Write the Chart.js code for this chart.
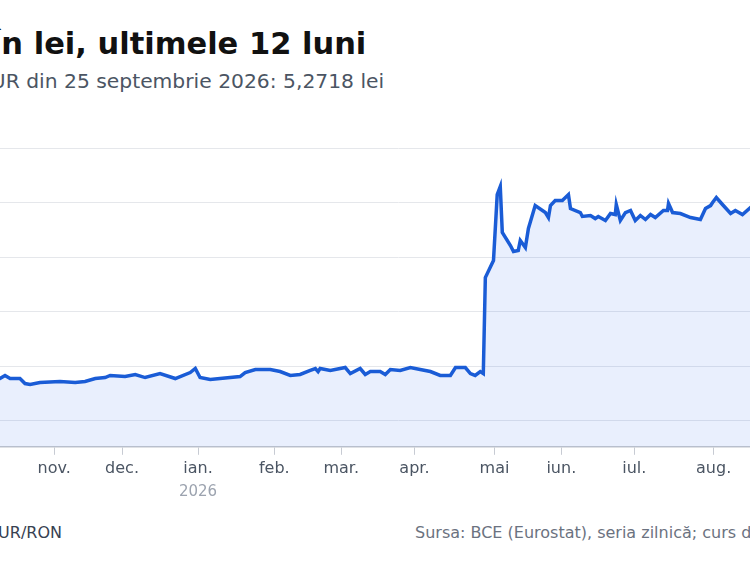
<!DOCTYPE html>
<html><head><meta charset="utf-8">
<script src="https://cdn.jsdelivr.net/npm/chart.js@4"></script>
<style>
body{margin:0;width:750px;height:575px;overflow:hidden;background:#fff;font-family:"DejaVu Sans",sans-serif;position:relative}
.t{position:absolute;white-space:nowrap}
#wrap{position:absolute;left:-34px;top:146px;width:900px;height:370px}
</style></head><body>
<div class="t" style="left:-10px;top:26px;font-size:30.5px;font-weight:bold;color:#111">În lei, ultimele 12 luni</div>
<div class="t" style="left:-22px;top:69px;font-size:20.3px;color:#4b5563">EUR din 25 septembrie 2026: 5,2718 lei</div>
<div class="t" style="left:-12px;top:523px;font-size:16px;color:#374151">EUR/RON</div>
<div class="t" style="left:415px;top:523px;font-size:16px;color:#6b7280">Sursa: BCE (Eurostat), seria zilnică; curs de referință</div>
<div id="wrap"><canvas id="c"></canvas></div>
<script>
const dayIndex=[0,10,11.5,13,15.9,17.4,18.9,21.8,27.7,32.2,35.1,38.1,41,42.5,46.9,49.9,52.8,57.2,61.7,66.1,67.6,69,72,74.9,80.8,82.3,85.3,89.7,92.6,95.6,98.5,101.5,103,103.8,104.4,107.4,111.8,113.3,116.2,117.7,119.2,122.1,123.6,125.1,128,131,133.9,136.9,139.8,142.8,144.3,147.2,148.7,150.1,151.6,152.5,153.1,155.5,156.6,157.5,158.1,160.5,161.4,162.8,163.4,164.9,165.8,167.8,170.8,171.7,172.3,173.7,175.8,177.6,178.2,181.1,181.7,184.1,185.5,186.4,188.5,190,191.4,191.7,192.9,194.4,195.9,197.3,198.8,200.3,201.8,203.2,205.6,206.8,207.1,208.3,210.6,213.6,216.5,218,219.5,220.1,221.2,223,225.4,226.8,228.9,231.3,237.2,243.1,249,255];
const rates=[5.0877,5.0886,5.0914,5.0886,5.0886,5.0840,5.0831,5.0849,5.0859,5.0849,5.0859,5.0886,5.0895,5.0914,5.0904,5.0923,5.0895,5.0932,5.0886,5.0941,5.0978,5.0895,5.0877,5.0886,5.0904,5.0941,5.0969,5.0969,5.0950,5.0914,5.0923,5.0960,5.0978,5.0950,5.0978,5.0960,5.0987,5.0932,5.0978,5.0923,5.0950,5.0950,5.0923,5.0969,5.0960,5.0987,5.0969,5.0950,5.0914,5.0914,5.0987,5.0987,5.0932,5.0914,5.0950,5.0932,5.1812,5.1968,5.2573,5.2647,5.2225,5.2106,5.2051,5.2060,5.2152,5.2087,5.2262,5.2472,5.2408,5.2362,5.2472,5.2518,5.2518,5.2573,5.2445,5.2408,5.2372,5.2381,5.2353,5.2372,5.2335,5.2399,5.2390,5.2482,5.2335,5.2408,5.2427,5.2335,5.2381,5.2344,5.2390,5.2362,5.2427,5.2427,5.2491,5.2408,5.2399,5.2362,5.2344,5.2445,5.2472,5.2500,5.2546,5.2482,5.2399,5.2427,5.2390,5.2454,5.2472,5.2518,5.2560,5.2718];
const monthTicks=[26,46,68.4,90.9,110.6,132.2,155.8,175.5,197,220.4,242.5];
const monthLabels=["nov.","dec.","ian.","feb.","mar.","apr.","mai","iun.","iul.","aug.","sept."];
const yTicks=[5.05,5.10,5.15,5.20,5.25,5.30];
const lastLabel="5,2718";
const blue="#1a5cd6";
const extra={id:"extra",afterDraw(ch){const c=ch.ctx,x=ch.scales.x,y=ch.scales.y;c.save();
c.font="15px 'DejaVu Sans'";c.fillStyle="#9ca3af";c.textAlign="center";c.textBaseline="middle";
c.fillText("2026",x.getPixelForValue(monthTicks[2]),y.bottom+45);
const n=dayIndex.length-1;c.font="bold 18px 'DejaVu Sans'";c.fillStyle=blue;c.textAlign="left";
c.fillText(lastLabel,x.getPixelForValue(dayIndex[n])-52,y.getPixelForValue(rates[n])-22);c.restore();}};
new Chart(document.getElementById("c"),{type:"line",
data:{datasets:[{data:dayIndex.map((d,i)=>({x:d,y:rates[i]})),borderColor:blue,borderWidth:3.5,backgroundColor:"rgba(37,99,235,0.10)",fill:"start",pointRadius:0,tension:0}]},
options:{responsive:true,maintainAspectRatio:false,animation:false,layout:{padding:{top:2,right:35,left:0,bottom:34}},
plugins:{legend:{display:false},tooltip:{enabled:false}},
scales:{x:{type:"linear",min:0,max:255,afterBuildTicks:a=>{a.ticks=monthTicks.map(v=>({value:v}))},
ticks:{autoSkip:false,maxRotation:0,color:"#4b5563",font:{size:16,family:"DejaVu Sans"},padding:4,callback:(v)=>monthLabels[monthTicks.indexOf(v)]},
grid:{drawOnChartArea:false,tickLength:8,color:"#c7cbd3"},border:{color:"#c0c4cc",width:1.5}},
y:{min:5.026,max:5.30,afterBuildTicks:a=>{a.ticks=yTicks.map(v=>({value:v}))},ticks:{display:false},grid:{color:"#e5e7eb",drawTicks:false},border:{display:false}}}},
plugins:[extra]});
</script></body></html>
